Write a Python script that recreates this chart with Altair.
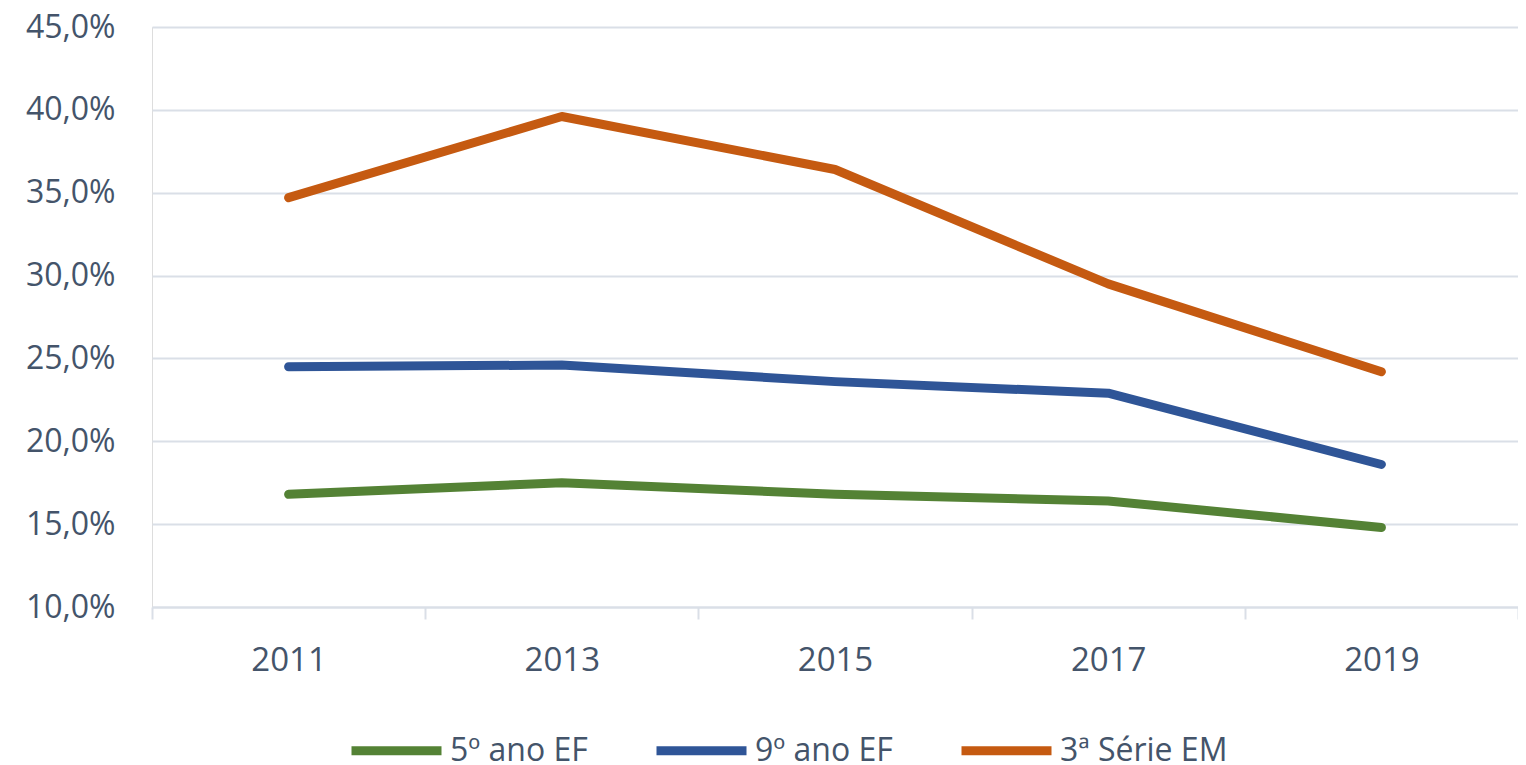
import altair as alt
import pandas as pd

years = ["2011", "2013", "2015", "2017", "2019"]
series_names = ["5º ano EF", "9º ano EF", "3ª Série EM"]
ef5 = [16.8, 17.5, 16.8, 16.4, 14.8]
ef9 = [24.5, 24.6, 23.6, 22.9, 18.6]
em3 = [34.7, 39.6, 36.4, 29.5, 24.2]
colors = ["#548235", "#2f5597", "#c55a11"]

rows = []
for name, vals in zip(series_names, [ef5, ef9, em3]):
    for y, v in zip(years, vals):
        rows.append({"Ano": y, "Série": name, "Valor": v / 100})
df = pd.DataFrame(rows)

FONT = "Open Sans"
TXT = "#44546a"
GRID = "#dadfe7"

chart = alt.Chart(df).mark_line(strokeWidth=9, strokeCap="round", strokeJoin="round").encode(
    x=alt.X("Ano:N", sort=years, title=None,
            scale=alt.Scale(paddingInner=0, paddingOuter=0),
            axis=alt.Axis(labelAngle=0, tickBand="extent", domainColor=GRID, domainWidth=2,
                          tickColor=GRID, tickWidth=2, tickSize=12, labelPadding=25,
                          labelFont=FONT, labelFontSize=33, labelColor=TXT, grid=False)),
    y=alt.Y("Valor:Q", title=None,
            scale=alt.Scale(domain=[0.10, 0.45], nice=False, zero=False),
            axis=alt.Axis(values=[0.10, 0.15, 0.20, 0.25, 0.30, 0.35, 0.40, 0.45],
                          labelExpr="replace(format(datum.value, '.1%'), '.', ',')",
                          domain=False, ticks=False, labelPadding=37,
                          gridColor=GRID, gridWidth=2,
                          labelFont=FONT, labelFontSize=32, labelColor=TXT)),
    color=alt.Color("Série:N", sort=series_names,
                    scale=alt.Scale(domain=series_names, range=colors),
                    legend=alt.Legend(title=None, orient="none", direction="horizontal",
                                      legendX=195, legendY=674, padding=0,
                                      symbolType="stroke", symbolSize=8100, symbolStrokeWidth=9,
                                      labelFont=FONT, labelFontSize=32, labelColor=TXT,
                                      labelLimit=500, labelOffset=4, columnPadding=50)),
).properties(
    width=1366, height=580,
    autosize=alt.AutoSizeParams(type="none"),
    padding={"left": 144, "top": 19, "right": 0, "bottom": 158},
).configure_view(stroke=None).configure(background="white")

chart.save("out.html", embed_options={"renderer": "svg", "actions": False})
